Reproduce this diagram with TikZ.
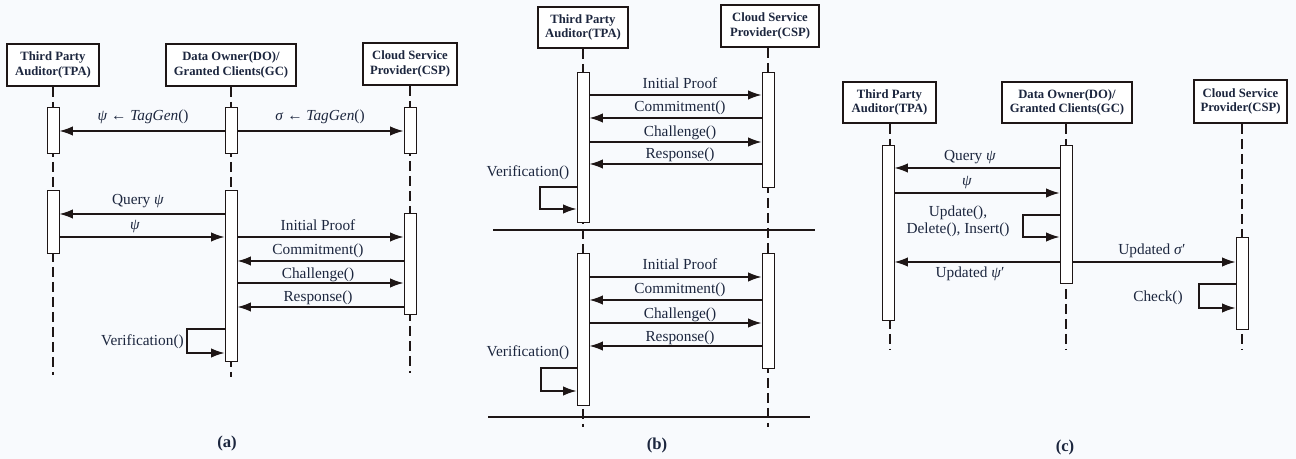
\documentclass[tikz,border=0pt]{standalone}
\usepackage{fontspec}
\setmainfont{Liberation Serif}
\usetikzlibrary{arrows.meta,fit}
\definecolor{paper}{RGB}{248,250,253}
\definecolor{ink}{RGB}{30,22,22}
\definecolor{txt}{RGB}{28,38,62}

\tikzset{
  headbox/.style={draw=ink, line width=1.4pt, fill=white, inner sep=0pt, align=center,
    font=\bfseries\fontsize{9.5}{11}\selectfont, text=txt},
  actbar/.style={draw=ink, line width=0.75pt, fill=white, inner sep=0pt},
  life/.style={draw=ink, line width=1.1pt, dash pattern=on 7.5pt off 3.75pt},
  msg/.style={draw=ink, line width=1pt, -{Latex[length=10pt,width=7pt]}},
  lbl/.style={inner sep=0pt, text=txt, font=\fontsize{11.5}{13}\selectfont},
  subcaption/.style={inner sep=0pt, text=txt, font=\bfseries\fontsize{12.5}{14}\selectfont},
  sepline/.style={draw=ink, line width=1.1pt}
}

\begin{document}
\begin{tikzpicture}[x=0.75pt, y=-0.75pt]
\fill[paper] (0,0) rectangle (1296,459);

% ---------------- (a) setup and audit by the data owner ----------------
\node[headbox, minimum width=69pt, minimum height=31.5pt] (a-tpa) at (53,65) {Third Party\\Auditor(TPA)};
\node[headbox, minimum width=97.5pt, minimum height=31.5pt] (a-do) at (231,65) {Data Owner(DO)/\\Granted Clients(GC)};
\node[headbox, minimum width=70.5pt, minimum height=31.5pt] (a-csp) at (410,64) {Cloud Service\\Provider(CSP)};

\coordinate (a-tpa-end) at (53,375);
\coordinate (a-do-end) at (231,377);
\coordinate (a-csp-end) at (410,373);
\draw[life] (a-tpa.south) -- (a-tpa-end);
\draw[life] (a-do.south) -- (a-do-end);
\draw[life] (a-csp.south) -- (a-csp-end);

\node[actbar, fit={(47,108)(59,154)}] (a-tpa1) {};
\node[actbar, fit={(225,108)(237,154)}] (a-do1) {};
\node[actbar, fit={(404,108)(416,154)}] (a-csp1) {};
\node[actbar, fit={(47,191)(59,254)}] (a-tpa2) {};
\node[actbar, fit={(225,191)(237,362)}] (a-do2) {};
\node[actbar, fit={(404,214)(416,315)}] (a-csp2) {};

\draw[msg] (a-do1.west |- 0,131) -- (a-tpa1.east |- 0,131);
\node[lbl] (a-l1) at (143,117) {\textit{ψ} ← \textit{TagGen}()};
\draw[msg] (a-do1.east |- 0,131) -- (a-csp1.west |- 0,131);
\node[lbl] (a-l2) at (320,117) {\textit{σ} ← \textit{TagGen}()};

\draw[msg] (a-do2.west |- 0,214) -- (a-tpa2.east |- 0,214);
\node[lbl] (a-l3) at (138,201) {Query \textit{ψ}};
\draw[msg] (a-tpa2.east |- 0,237) -- (a-do2.west |- 0,237);
\node[lbl] (a-l4) at (135,227) {\textit{ψ}};

\draw[msg] (a-do2.east |- 0,237) -- (a-csp2.west |- 0,237);
\node[lbl] (a-l5) at (318,225) {Initial Proof};
\draw[msg] (a-csp2.west |- 0,261) -- (a-do2.east |- 0,261);
\node[lbl] (a-l6) at (318,251) {Commitment()};
\draw[msg] (a-do2.east |- 0,283) -- (a-csp2.west |- 0,283);
\node[lbl] (a-l7) at (318,275) {Challenge()};
\draw[msg] (a-csp2.west |- 0,307) -- (a-do2.east |- 0,307);
\node[lbl] (a-l8) at (318,298) {Response()};

\draw[msg] (a-do2.west |- 0,329) -| (187,353) -- (a-do2.west |- 0,353);
\node[lbl, anchor=east] (a-l9) at (184,342) {Verification()};

\node[subcaption] (a-cap) at (227,443) {(a)};

% ---------------- (b) auditor-driven audit, two rounds ----------------
\node[headbox, minimum width=67.5pt, minimum height=30.75pt] (b-tpa) at (583,27.5) {Third Party\\Auditor(TPA)};
\node[headbox, minimum width=73.5pt, minimum height=31.5pt] (b-csp) at (770,26) {Cloud Service\\Provider(CSP)};

\coordinate (b-tpa-end) at (583,427);
\coordinate (b-csp-end) at (768,427);
\draw[life] (b-tpa.south -| 583,0) -- (b-tpa-end);
\draw[life] (b-csp.south -| 768,0) -- (b-csp-end);

\coordinate (b-s1l) at (493,230);
\coordinate (b-s1r) at (815,230);
\coordinate (b-s2l) at (488,417);
\coordinate (b-s2r) at (810,417);
\draw[sepline] (b-s1l) -- (b-s1r);
\draw[sepline] (b-s2l) -- (b-s2r);

\node[actbar, fit={(577,73)(589,223)}] (b-tpa1) {};
\node[actbar, fit={(762,73)(774,188)}] (b-csp1) {};
\node[actbar, fit={(577,254)(589,406)}] (b-tpa2) {};
\node[actbar, fit={(762,254)(774,369)}] (b-csp2) {};

\draw[msg] (b-tpa1.east |- 0,95) -- (b-csp1.west |- 0,95);
\node[lbl] (b-l1) at (680,83) {Initial Proof};
\draw[msg] (b-csp1.west |- 0,118) -- (b-tpa1.east |- 0,118);
\node[lbl] (b-l2) at (680,108) {Commitment()};
\draw[msg] (b-tpa1.east |- 0,142) -- (b-csp1.west |- 0,142);
\node[lbl] (b-l3) at (680,133) {Challenge()};
\draw[msg] (b-csp1.west |- 0,164) -- (b-tpa1.east |- 0,164);
\node[lbl] (b-l4) at (680,155) {Response()};
\draw[msg] (b-tpa1.west |- 0,187) -| (540,209) -- (b-tpa1.west |- 0,209);
\node[lbl] (b-l5) at (528,173) {Verification()};

\draw[msg] (b-tpa2.east |- 0,277) -- (b-csp2.west |- 0,277);
\node[lbl] (b-l6) at (680,264) {Initial Proof};
\draw[msg] (b-csp2.west |- 0,300) -- (b-tpa2.east |- 0,300);
\node[lbl] (b-l7) at (680,290) {Commitment()};
\draw[msg] (b-tpa2.east |- 0,323) -- (b-csp2.west |- 0,323);
\node[lbl] (b-l8) at (680,315) {Challenge()};
\draw[msg] (b-csp2.west |- 0,346) -- (b-tpa2.east |- 0,346);
\node[lbl] (b-l9) at (680,338) {Response()};
\draw[msg] (b-tpa2.west |- 0,368) -| (541,391) -- (b-tpa2.west |- 0,391);
\node[lbl] (b-l10) at (528,353) {Verification()};

\node[subcaption] (b-cap) at (657,445) {(b)};

% ---------------- (c) dynamic update ----------------
\node[headbox, minimum width=69.75pt, minimum height=30.75pt] (c-tpa) at (889.5,102.5) {Third Party\\Auditor(TPA)};
\node[headbox, minimum width=97.5pt, minimum height=30.75pt] (c-do) at (1067,102.5) {Data Owner(DO)/\\Granted Clients(GC)};
\node[headbox, minimum width=69.75pt, minimum height=32.25pt] (c-csp) at (1240.5,101.5) {Cloud Service\\Provider(CSP)};

\coordinate (c-tpa-end) at (890,350);
\coordinate (c-do-end) at (1066,350);
\coordinate (c-csp-end) at (1242,350);
\draw[life] (c-tpa.south -| 890,0) -- (c-tpa-end);
\draw[life] (c-do.south -| 1066,0) -- (c-do-end);
\draw[life] (c-csp.south -| 1242,0) -- (c-csp-end);

\node[actbar, fit={(882,146)(894,321)}] (c-tpa1) {};
\node[actbar, fit={(1060,146)(1072,284)}] (c-do1) {};
\node[actbar, fit={(1236,238)(1248,330)}] (c-csp1) {};

\draw[msg] (c-do1.west |- 0,168) -- (c-tpa1.east |- 0,168);
\node[lbl] (c-l1) at (970,157) {Query \textit{ψ}};
\draw[msg] (c-tpa1.east |- 0,193) -- (c-do1.west |- 0,193);
\node[lbl] (c-l2) at (967,183) {\textit{ψ}};
\draw[msg] (c-do1.west |- 0,215) -| (1023,237) -- (c-do1.west |- 0,237);
\node[lbl, align=center] (c-l3) at (958,221) {Update(),\\Delete(), Insert()};
\draw[msg] (c-do1.west |- 0,262) -- (c-tpa1.east |- 0,262);
\node[lbl] (c-l4) at (970,274) {Updated \textit{ψ}′};
\draw[msg] (c-do1.east |- 0,262) -- (c-csp1.west |- 0,262);
\node[lbl] (c-l5) at (1152,251) {Updated \textit{σ}′};
\draw[msg] (c-csp1.west |- 0,284) -| (1199,308) -- (c-csp1.west |- 0,308);
\node[lbl] (c-l6) at (1158,298) {Check()};

\node[subcaption] (c-cap) at (1065,447) {(c)};
\end{tikzpicture}
\end{document}
